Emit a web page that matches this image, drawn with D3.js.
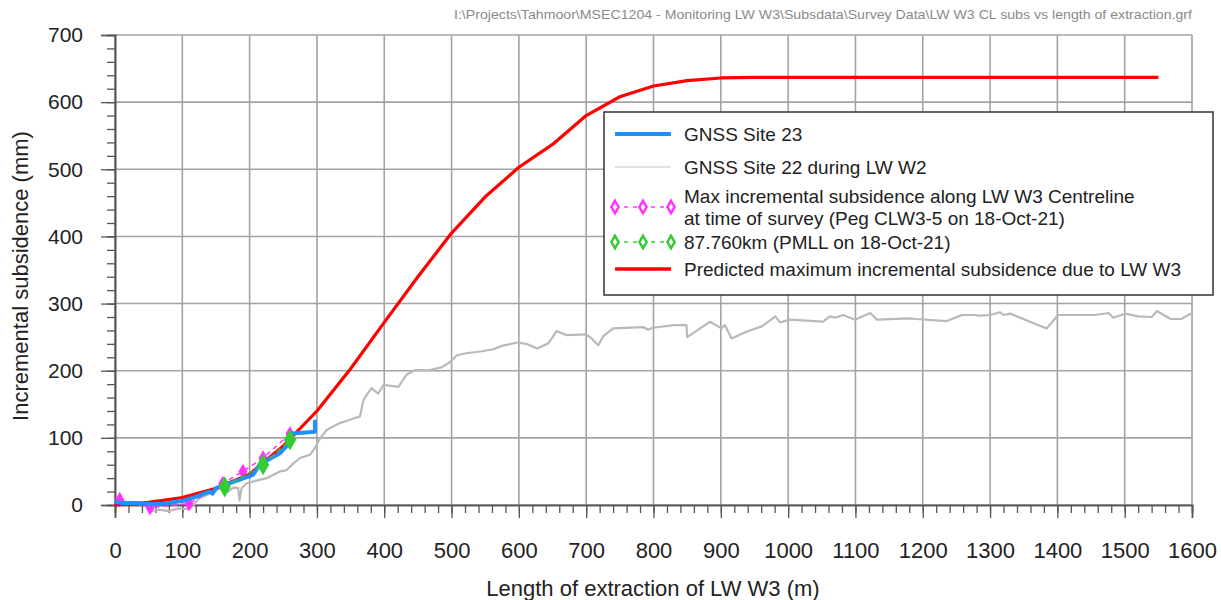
<!DOCTYPE html>
<html>
<head>
<meta charset="utf-8">
<script src="https://cdn.jsdelivr.net/npm/d3@7"></script>
<style>
  body { margin: 0; background: #fff; }
  svg { display: block; font-family: "Liberation Sans", Arial, sans-serif; }
</style>
</head>
<body>
<script>
// tick values
var xTicks = d3.range(0, 1601, 100);
var yTicks = d3.range(0, 701, 100);

// GNSS Site 23 (blue)
var site23 = [[0,5],[10,3],[30,3],[55,1],[70,2],[100,6],[120,12],[140,20],[145,17],[150,25],[175,34],[205,45],[213,57],[225,66],[245,77],[257,90],[260,106],[297,109],[297,127]];

// GNSS Site 22 during LW W2 (grey)
var site22 = [[50,-10],[65,-7],[80,-9],[95,-5],[110,-6],[115,-2],[125,10],[135,14],[150,22],[160,26],[168,20],[176,26],[183,25],[185,7],[188,25],[195,32],[205,35],[225,40],[245,50],[255,52],[265,62],[275,70],[290,75],[297,85],[305,100],[315,112],[334,122],[349,127],[364,132],[369,156],[374,164],[381,174],[391,166],[399,179],[421,176],[433,194],[446,201],[468,201],[485,205],[498,213],[508,223],[522,226],[545,229],[562,232],[575,237],[597,242],[611,240],[627,233],[644,241],[656,259],[671,253],[700,254],[708,248],[718,238],[725,251],[740,263],[785,265],[792,261],[799,264],[830,268],[849,268],[850,250],[859,256],[884,273],[901,263],[906,268],[916,248],[938,258],[961,266],[981,281],[988,272],[1003,276],[1052,273],[1062,281],[1070,279],[1082,283],[1099,276],[1122,286],[1132,276],[1181,278],[1190,277],[1236,274],[1258,283],[1275,283],[1285,282],[1300,283],[1315,287],[1320,283],[1330,285],[1384,263],[1401,283],[1456,283],[1476,286],[1483,279],[1501,285],[1520,281],[1540,280],[1548,289],[1568,277],[1584,277],[1600,286]];

// max incremental subsidence along CL (magenta)
var clPegs = [[7,8],[52,-4],[110,2],[160,32],[190,50],[220,70],[260,106]];

// 87.760km PMLL (green)
var pmll = [[163,27],[220,60],[260,97]];

// predicted (red)
var predicted = [[0,0],[50,4],[100,11],[150,25],[200,46],[250,88],[300,140],[350,203],[400,272],[450,340],[500,405],[550,459],[600,503],[650,537],[700,580],[750,608],[800,624],[850,632],[900,636],[950,637],[1000,637],[1100,637],[1200,637],[1300,637],[1400,637],[1500,637],[1550,637]];

var legendLabels = [
  ["GNSS Site 23"],
  ["GNSS Site 22 during LW W2"],
  ["Max incremental subsidence along LW W3 Centreline", "at time of survey (Peg CLW3-5 on 18-Oct-21)"],
  ["87.760km (PMLL on 18-Oct-21)"],
  ["Predicted maximum incremental subsidence due to LW W3"]
];

var W = 1221, H = 600;
var svg = d3.select("body").append("svg").attr("width", W).attr("height", H);

var x = d3.scaleLinear().domain([0, 1600]).range([115, 1192]);
var y = d3.scaleLinear().domain([0, 700]).range([505, 35]);

// file path text
svg.append("text")
  .attr("x", 1192).attr("y", 19)
  .attr("text-anchor", "end")
  .attr("font-size", "13px")
  .attr("fill", "#8a8a8a")
  .attr("textLength", 738).attr("lengthAdjust", "spacingAndGlyphs")
  .text("I:\\Projects\\Tahmoor\\MSEC1204 - Monitoring LW W3\\Subsdata\\Survey Data\\LW W3 CL subs vs length of extraction.grf");

// grid
var grid = svg.append("g");
grid.selectAll("line.v").data(xTicks).enter().append("line")
  .attr("x1", d => x(d)).attr("x2", d => x(d))
  .attr("y1", y(0)).attr("y2", y(700))
  .attr("stroke", "#a3a3a3").attr("stroke-width", 1.6);
grid.selectAll("line.h").data(yTicks).enter().append("line")
  .attr("x1", x(0)).attr("x2", x(1600))
  .attr("y1", d => y(d)).attr("y2", d => y(d))
  .attr("stroke", "#a3a3a3").attr("stroke-width", 1.6);

// axes
var xAxis = d3.axisBottom(x).tickValues(xTicks).tickSize(13).tickPadding(24).tickFormat(d3.format("d"));
var xMinor = d3.axisBottom(x).tickValues(d3.range(0, 1601, 20)).tickSize(8).tickFormat("");
var yAxis = d3.axisLeft(y).tickValues(yTicks).tickSize(14).tickPadding(18).tickFormat(d3.format("d"));
var yMinor = d3.axisLeft(y).tickValues(d3.range(0, 701, 20)).tickSize(8).tickFormat("");

function styleAxis(g, fs) {
  g.select(".domain").attr("stroke", "#555").attr("stroke-width", 1.6);
  g.selectAll(".tick line").attr("stroke", "#555").attr("stroke-width", 1.3);
  g.selectAll(".tick text").attr("font-size", fs).attr("fill", "#222")
    .attr("font-family", "'Liberation Sans', Arial, sans-serif");
}
svg.append("g").attr("transform", "translate(0," + y(0) + ")").call(xMinor).call(styleAxis, "22px");
svg.append("g").attr("transform", "translate(0," + y(0) + ")").call(xAxis).call(styleAxis, "22px");
svg.append("g").attr("transform", "translate(" + x(0) + ",0)").call(yMinor).call(styleAxis, "21px");
svg.append("g").attr("transform", "translate(" + x(0) + ",0)").call(yAxis).call(styleAxis, "21px");

// axis titles
svg.append("text")
  .attr("x", 653).attr("y", 596)
  .attr("text-anchor", "middle").attr("font-size", "22px").attr("fill", "#222")
  .text("Length of extraction of LW W3 (m)");
svg.append("text")
  .attr("transform", "translate(28,276) rotate(-90)")
  .attr("text-anchor", "middle").attr("font-size", "22px").attr("fill", "#222")
  .text("Incremental subsidence (mm)");

var line = d3.line().x(d => x(d[0])).y(d => y(d[1]));
var diamond = d3.symbol().type(d3.symbolDiamond);

// GNSS Site 22 grey
svg.append("path").datum(site22).attr("d", line)
  .attr("fill", "none").attr("stroke", "#b9b9b9").attr("stroke-width", 2.2)
  .attr("stroke-linejoin", "round");

// magenta pegs
svg.append("path").datum(clPegs).attr("d", line)
  .attr("fill", "none").attr("stroke", "#ff33ff").attr("stroke-width", 1.5)
  .attr("stroke-dasharray", "5,4");
svg.selectAll("path.mag").data(clPegs).enter().append("path")
  .attr("d", diamond.size(70)())
  .attr("transform", d => "translate(" + x(d[0]) + "," + y(d[1]) + ")")
  .attr("fill", "#ff33ff");

// predicted red
svg.append("path").datum(predicted).attr("d", line)
  .attr("fill", "none").attr("stroke", "#ff0000").attr("stroke-width", 3.2)
  .attr("stroke-linejoin", "round");

// GNSS Site 23 blue
svg.append("path").datum(site23).attr("d", line)
  .attr("fill", "none").attr("stroke", "#1e90ff").attr("stroke-width", 4)
  .attr("stroke-linejoin", "round");

// green PMLL
svg.append("path").datum(pmll).attr("d", line)
  .attr("fill", "none").attr("stroke", "#33cc33").attr("stroke-width", 1.5)
  .attr("stroke-dasharray", "5,4");
svg.selectAll("path.grn").data(pmll).enter().append("path")
  .attr("d", diamond.size(130)())
  .attr("transform", d => "translate(" + x(d[0]) + "," + y(d[1]) + ")")
  .attr("fill", "#33cc33");

// legend
var lg = svg.append("g");
lg.append("rect")
  .attr("x", 604).attr("y", 112).attr("width", 609).attr("height", 183)
  .attr("fill", "#fff").attr("stroke", "#333").attr("stroke-width", 1.5);

var rowY = [134, 167, 207, 242, 269];
var sx0 = 615, sx1 = 671, tx = 684;

lg.append("line").attr("x1", sx0).attr("x2", sx1).attr("y1", rowY[0]).attr("y2", rowY[0])
  .attr("stroke", "#1e90ff").attr("stroke-width", 4);
lg.append("line").attr("x1", sx0).attr("x2", sx1).attr("y1", rowY[1]).attr("y2", rowY[1])
  .attr("stroke", "#c4c4c4").attr("stroke-width", 1.2);
[[rowY[2], "#ff33ff"], [rowY[3], "#33cc33"]].forEach(function (r) {
  lg.append("line").attr("x1", sx0).attr("x2", sx1).attr("y1", r[0]).attr("y2", r[0])
    .attr("stroke", r[1]).attr("stroke-width", 1.5).attr("stroke-dasharray", "4,5");
  [sx0, (sx0 + sx1) / 2, sx1].forEach(function (px) {
    lg.append("path").attr("d", diamond.size(45)())
      .attr("transform", "translate(" + px + "," + r[0] + ")")
      .attr("fill", "#fff").attr("stroke", r[1]).attr("stroke-width", 2.5);
  });
});
lg.append("line").attr("x1", sx0).attr("x2", sx1).attr("y1", rowY[4]).attr("y2", rowY[4])
  .attr("stroke", "#ff0000").attr("stroke-width", 3.5);

var textY = [[134], [167], [196, 218], [242], [269]];
legendLabels.forEach(function (lines, i) {
  lines.forEach(function (t, j) {
    lg.append("text").attr("x", tx).attr("y", textY[i][j]).attr("dy", "0.35em")
      .attr("font-size", "19px").attr("fill", "#222").text(t);
  });
});
</script>
</body>
</html>
